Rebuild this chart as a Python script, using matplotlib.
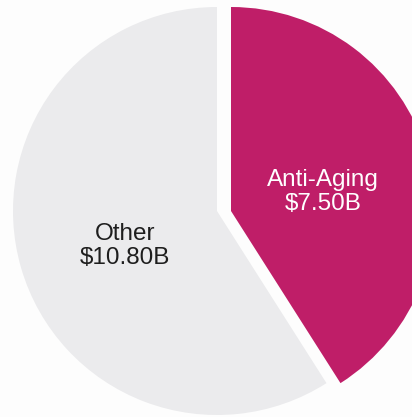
import numpy as np
import matplotlib
matplotlib.use("Agg")
import matplotlib.pyplot as plt

# slice data
labels = ["Anti-Aging", "Other"]
values = [7.50, 10.80]
colors = ["#BF1E68", "#EBEBED"]
text_colors = ["white", "#1E1E1E"]

W, H = 412, 417
cx, cy = 224, H - 211
radius = 204
gap = 7  # half of the white gap, in px

fig = plt.figure(figsize=(W / 100, H / 100), dpi=100)
fig.patch.set_facecolor("#FDFDFD")
ax = fig.add_axes([0, 0, 1, 1])

wedges, _ = ax.pie(values, colors=colors, startangle=90, counterclock=False,
                   center=(cx, cy), radius=radius,
                   wedgeprops={"linewidth": 0})

# pull the two slices apart horizontally
shifts = [gap, -gap]
for w, dx, name, val, tc in zip(wedges, shifts, labels, values, text_colors):
    w.set_center((cx + dx, cy))
    mid = np.deg2rad((w.theta1 + w.theta2) / 2)
    tx = cx + dx + 0.47 * radius * np.cos(mid)
    ty = cy + 0.47 * radius * np.sin(mid) - 8
    ax.text(tx, ty, f"{name}\n${val:.2f}B", ha="center", va="center",
            color=tc, fontsize=17.5, family="Liberation Sans", linespacing=1.15)

ax.set_xlim(0, W)
ax.set_ylim(0, H)
ax.set_aspect("equal")
ax.axis("off")
fig.savefig("out.png", dpi=100, facecolor=fig.get_facecolor())
